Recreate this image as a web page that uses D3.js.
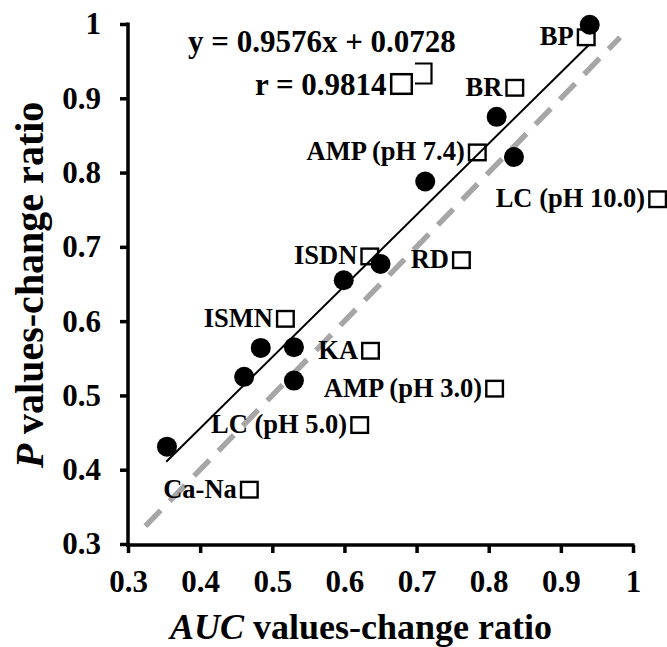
<!DOCTYPE html>
<html>
<head>
<meta charset="utf-8">
<script src="https://cdn.jsdelivr.net/npm/d3@7"></script>
<style>
  html, body { margin: 0; padding: 0; background: #fff; }
  svg text { font-family: "Liberation Serif", "Times New Roman", serif; font-weight: bold; fill: #000; }
</style>
</head>
<body>
<svg id="chart" width="667" height="647"></svg>
<script>
// AUC ratio vs P ratio for each compound
const aucRatio = [0.354, 0.461, 0.484, 0.530, 0.530, 0.599, 0.650, 0.712, 0.811, 0.835, 0.940];
const pRatio   = [0.431, 0.525, 0.564, 0.565, 0.520, 0.655, 0.677, 0.788, 0.875, 0.821, 0.999];

// Compound names shown next to open squares
const compoundNames = ["BP", "BR", "AMP (pH 7.4)", "LC (pH 10.0)", "ISDN", "RD", "ISMN", "KA", "AMP (pH 3.0)", "LC (pH 5.0)", "Ca-Na"];
// square anchor (left edge, bottom edge) in axis units
const nameAncX = [0.922, 0.823, 0.771, 1.021, 0.622, 0.749, 0.505, 0.623, 0.795, 0.608, 0.455];
const nameAncY = [0.970, 0.902, 0.815, 0.752, 0.675, 0.670, 0.591, 0.548, 0.497, 0.448, 0.361];

const xTicks = [0.3, 0.4, 0.5, 0.6, 0.7, 0.8, 0.9, 1];
const yTicks = [0.3, 0.4, 0.5, 0.6, 0.7, 0.8, 0.9, 1];

const slope = 0.9576, intercept = 0.0728, rValue = 0.9814;
const fitRange = [0.353, 0.938];
const identityRange = [0.324, 0.982];

const svg = d3.select("#chart");
const x = d3.scaleLinear().domain([0.3, 1]).range([128, 633]);
const y = d3.scaleLinear().domain([0.3, 1]).range([544, 24]);

// identity reference line (dashed grey)
svg.append("line")
  .attr("x1", x(identityRange[0])).attr("y1", y(identityRange[0]))
  .attr("x2", x(identityRange[1])).attr("y2", y(identityRange[1]))
  .attr("stroke", "#a6a6a6").attr("stroke-width", 5.5)
  .attr("stroke-dasharray", "22,13");

// regression line
svg.append("line")
  .attr("x1", x(fitRange[0])).attr("y1", y(slope * fitRange[0] + intercept))
  .attr("x2", x(fitRange[1])).attr("y2", y(slope * fitRange[1] + intercept))
  .attr("stroke", "#000").attr("stroke-width", 2);

// data points
svg.append("g").selectAll("circle")
  .data(aucRatio.map((a, i) => [a, pRatio[i]]))
  .join("circle")
  .attr("cx", d => x(d[0])).attr("cy", d => y(d[1]))
  .attr("r", 10).attr("fill", "#000");

// compound labels with open squares
const sqW = 19, sqH = 18, sqStroke = 2.4;
const lab = svg.append("g");
compoundNames.forEach((name, i) => {
  const sx = x(nameAncX[i]), sy = y(nameAncY[i]);
  lab.append("rect")
    .attr("x", sx + sqStroke / 2).attr("y", sy - sqH + sqStroke / 2)
    .attr("width", sqW - sqStroke).attr("height", sqH - sqStroke)
    .attr("fill", "none").attr("stroke", "#000").attr("stroke-width", sqStroke);
  lab.append("text")
    .attr("x", sx - 3).attr("y", sy - 1)
    .attr("text-anchor", "end")
    .attr("font-size", 26.5)
    .text(name);
});

// regression equation and correlation
svg.append("text").attr("x", 188).attr("y", 52).attr("font-size", 31)
  .text(`y = ${slope}x + ${intercept}`);
svg.append("text").attr("x", 255).attr("y", 95).attr("font-size", 31)
  .text(`r = ${rValue}`);
svg.append("rect").attr("x", 391.2).attr("y", 74.2).attr("width", 20.6).attr("height", 19.6)
  .attr("fill", "none").attr("stroke", "#000").attr("stroke-width", 2.5);
svg.append("path").attr("d", "M415,63.5H431.5V83.5H415")
  .attr("fill", "none").attr("stroke", "#000").attr("stroke-width", 2.2);

// axes
const xAxis = svg.append("g").attr("transform", "translate(0,545)")
  .call(d3.axisBottom(x).tickValues(xTicks).tickFormat(d3.format("")).tickSizeInner(8).tickSizeOuter(0).tickPadding(17));
const yAxis = svg.append("g").attr("transform", "translate(128,0)")
  .call(d3.axisLeft(y).tickValues(yTicks).tickFormat(d3.format("")).tickSizeInner(8).tickSizeOuter(0).tickPadding(19));
[xAxis, yAxis].forEach(g => {
  g.select(".domain").attr("stroke", "#000").attr("stroke-width", 3.5);
  g.selectAll(".tick line").attr("stroke", "#000").attr("stroke-width", 3.5);
  g.selectAll(".tick text").attr("font-size", 31).attr("fill", "#000")
    .style("font-family", '"Liberation Serif", serif').style("font-weight", "bold");
});
xAxis.select(".domain").attr("d", `M${x(0.3) - 2},0H${x(1) + 1.5}`);
yAxis.select(".domain").attr("d", `M0,${y(0.3) + 2.5}V${y(1) - 1.5}`);

// axis titles
const xt = svg.append("text").attr("x", 361).attr("y", 639).attr("text-anchor", "middle").attr("font-size", 36);
xt.append("tspan").attr("font-style", "italic").text("AUC");
xt.append("tspan").text(" values-change ratio");

const yt = svg.append("text").attr("transform", "translate(43,285) rotate(-90)")
  .attr("text-anchor", "middle").attr("font-size", 40);
yt.append("tspan").attr("font-style", "italic").text("P");
yt.append("tspan").text(" values-change ratio");
</script>
</body>
</html>
